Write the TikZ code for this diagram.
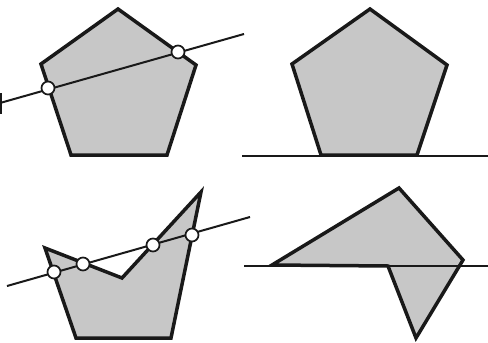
\documentclass[tikz,border=0pt]{standalone}
\begin{document}
\begin{tikzpicture}[x=1pt,y=-1pt,
  poly/.style={draw=black!90,fill=black!22,line width=3.5pt,line join=miter},
  ln/.style={draw=black!90,line width=2pt},
  pt/.style={draw=black!90,fill=white,line width=1.7pt}]
\useasboundingbox (0,0) rectangle (488,343);
% top-left
\draw[poly] (118,9) -- (196,65) -- (167,155) -- (71,155) -- (41,64) -- cycle;
\coordinate (a1) at (0,103);
\coordinate (a2) at (244,34);
\draw[ln] (a1) -- (a2);
\draw[ln] (1,93) -- (1,114);
\draw[pt] (48,88) circle (6.5);
\draw[pt] (178,52) circle (6.5);
% top-right
\draw[ln] (242,156) -- (488,156);
\draw[poly] (370,9) -- (447,65) -- (417,155) -- (321,155) -- (292,64) -- cycle;
% bottom-left
\draw[poly] (45,248) -- (122,278) -- (201,192) -- (171,338) -- (76,338) -- cycle;
\coordinate (b1) at (7,286);
\coordinate (b2) at (250,217);
\draw[ln] (b1) -- (b2);
\draw[pt] (54,272) circle (6.5);
\draw[pt] (83,264) circle (6.5);
\draw[pt] (153,245) circle (6.5);
\draw[pt] (192,235) circle (6.5);
% bottom-right
\draw[poly] (272,265) -- (399,188) -- (463,260) -- (416,338) -- (388,266) -- cycle;
\draw[ln] (244,266) -- (488,266);
\end{tikzpicture}
\end{document}
